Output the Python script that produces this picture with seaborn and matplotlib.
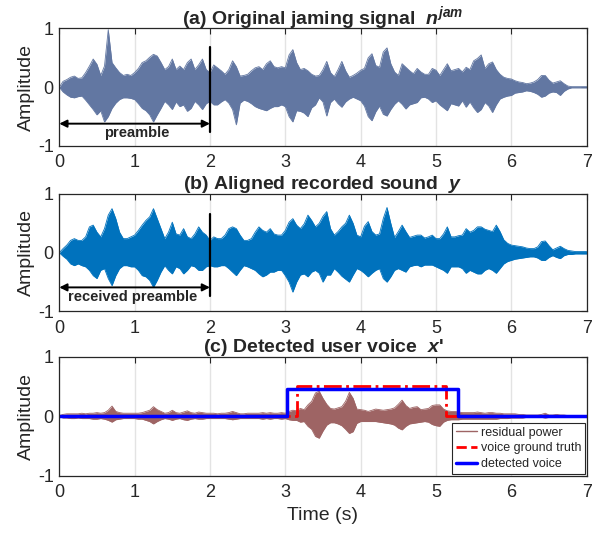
import numpy as np
import matplotlib
matplotlib.use('Agg')
from matplotlib import pyplot as plt
from matplotlib.lines import Line2D
import seaborn as sns

# time grid of the envelopes (s)
time_s = np.round(np.arange(0, 7.001, 0.05), 2)

# (a) original jamming signal, envelope
jam_upper = [
    0.00, 0.10, 0.13, 0.17, 0.19, 0.15, 0.16, 0.25, 0.36, 0.48, 0.39, 0.20, 0.36, 0.98, 0.42, 0.33, 0.25, 0.20, 0.22, 0.20,
    0.25, 0.32, 0.42, 0.45, 0.51, 0.56, 0.53, 0.42, 0.30, 0.35, 0.48, 0.30, 0.36, 0.30, 0.42, 0.48, 0.30, 0.38, 0.48, 0.30,
    0.25, 0.38, 0.33, 0.28, 0.22, 0.30, 0.45, 0.35, 0.19, 0.20, 0.22, 0.28, 0.33, 0.35, 0.30, 0.40, 0.45, 0.35, 0.33, 0.35,
    0.33, 0.55, 0.64, 0.42, 0.30, 0.32, 0.28, 0.22, 0.19, 0.20, 0.30, 0.44, 0.25, 0.18, 0.30, 0.44, 0.28, 0.17, 0.20, 0.24,
    0.29, 0.32, 0.50, 0.57, 0.37, 0.34, 0.60, 0.67, 0.40, 0.26, 0.20, 0.40, 0.34, 0.28, 0.23, 0.32, 0.26, 0.22, 0.22, 0.32,
    0.29, 0.20, 0.30, 0.40, 0.28, 0.30, 0.32, 0.26, 0.34, 0.30, 0.45, 0.49, 0.55, 0.32, 0.40, 0.43, 0.30, 0.22, 0.17, 0.15,
    0.14, 0.11, 0.09, 0.08, 0.06, 0.07, 0.09, 0.13, 0.20, 0.20, 0.12, 0.07, 0.09, 0.11, 0.06, 0.02, 0.01, 0.01, 0.01, 0.01,
    0.01]
jam_lower = [
    0.00, -0.08, -0.13, -0.17, -0.18, -0.16, -0.15, -0.22, -0.30, -0.38, -0.47, -0.40, -0.59, -0.50, -0.36, -0.27, -0.21, -0.18, -0.18, -0.19,
    -0.21, -0.28, -0.36, -0.40, -0.47, -0.59, -0.47, -0.36, -0.24, -0.30, -0.38, -0.25, -0.33, -0.30, -0.41, -0.36, -0.24, -0.30, -0.38, -0.28,
    -0.24, -0.30, -0.30, -0.25, -0.21, -0.27, -0.38, -0.64, -0.27, -0.22, -0.24, -0.28, -0.33, -0.36, -0.38, -0.40, -0.36, -0.33, -0.33, -0.30,
    -0.33, -0.50, -0.59, -0.40, -0.41, -0.44, -0.50, -0.35, -0.30, -0.18, -0.25, -0.49, -0.26, -0.20, -0.28, -0.34, -0.25, -0.20, -0.17, -0.20,
    -0.23, -0.32, -0.50, -0.57, -0.42, -0.32, -0.46, -0.49, -0.38, -0.29, -0.23, -0.29, -0.37, -0.30, -0.28, -0.26, -0.18, -0.17, -0.20, -0.26,
    -0.23, -0.30, -0.35, -0.40, -0.28, -0.30, -0.32, -0.23, -0.34, -0.25, -0.35, -0.43, -0.38, -0.26, -0.32, -0.43, -0.30, -0.20, -0.17, -0.15,
    -0.14, -0.10, -0.09, -0.08, -0.06, -0.07, -0.09, -0.12, -0.17, -0.15, -0.10, -0.08, -0.09, -0.14, -0.07, -0.03, -0.01, -0.01, -0.01, -0.01,
    -0.01]

# (b) aligned recorded sound
rec_upper = [
    0.00, 0.07, 0.13, 0.21, 0.24, 0.21, 0.21, 0.27, 0.44, 0.47, 0.35, 0.27, 0.41, 0.64, 0.75, 0.58, 0.35, 0.24, 0.24, 0.27,
    0.30, 0.38, 0.47, 0.55, 0.61, 0.75, 0.58, 0.41, 0.24, 0.35, 0.52, 0.32, 0.30, 0.41, 0.27, 0.24, 0.32, 0.44, 0.35, 0.30,
    0.21, 0.27, 0.24, 0.24, 0.30, 0.41, 0.44, 0.41, 0.30, 0.21, 0.21, 0.24, 0.35, 0.44, 0.38, 0.35, 0.41, 0.32, 0.30, 0.30,
    0.38, 0.52, 0.58, 0.47, 0.41, 0.49, 0.64, 0.55, 0.44, 0.50, 0.62, 0.70, 0.41, 0.30, 0.36, 0.44, 0.50, 0.64, 0.50, 0.30,
    0.27, 0.45, 0.53, 0.36, 0.30, 0.32, 0.58, 0.77, 0.50, 0.26, 0.36, 0.47, 0.36, 0.26, 0.28, 0.30, 0.30, 0.25, 0.27, 0.30,
    0.24, 0.24, 0.32, 0.44, 0.27, 0.27, 0.29, 0.30, 0.41, 0.35, 0.38, 0.44, 0.44, 0.40, 0.38, 0.36, 0.47, 0.36, 0.22, 0.16,
    0.13, 0.12, 0.11, 0.10, 0.08, 0.07, 0.07, 0.10, 0.19, 0.20, 0.12, 0.05, 0.08, 0.11, 0.07, 0.04, 0.03, 0.02, 0.02, 0.02,
    0.02]
rec_lower = [
    0.00, -0.06, -0.11, -0.19, -0.22, -0.19, -0.22, -0.24, -0.30, -0.39, -0.44, -0.30, -0.27, -0.44, -0.56, -0.39, -0.27, -0.22, -0.22, -0.24,
    -0.24, -0.30, -0.39, -0.41, -0.47, -0.59, -0.47, -0.33, -0.22, -0.30, -0.36, -0.24, -0.27, -0.36, -0.30, -0.22, -0.24, -0.30, -0.30, -0.24,
    -0.22, -0.24, -0.24, -0.22, -0.22, -0.27, -0.33, -0.39, -0.30, -0.22, -0.24, -0.27, -0.30, -0.36, -0.41, -0.38, -0.33, -0.33, -0.30, -0.30,
    -0.39, -0.50, -0.67, -0.50, -0.38, -0.36, -0.41, -0.33, -0.30, -0.35, -0.50, -0.38, -0.38, -0.27, -0.33, -0.40, -0.45, -0.50, -0.38, -0.27,
    -0.30, -0.35, -0.41, -0.35, -0.30, -0.27, -0.44, -0.50, -0.41, -0.30, -0.27, -0.30, -0.33, -0.24, -0.22, -0.21, -0.24, -0.21, -0.21, -0.21,
    -0.24, -0.27, -0.30, -0.35, -0.24, -0.24, -0.24, -0.27, -0.35, -0.30, -0.33, -0.36, -0.36, -0.30, -0.27, -0.30, -0.35, -0.27, -0.19, -0.15,
    -0.13, -0.11, -0.10, -0.09, -0.08, -0.07, -0.07, -0.09, -0.13, -0.13, -0.08, -0.05, -0.08, -0.10, -0.05, -0.03, -0.03, -0.02, -0.02, -0.02,
    -0.02]

# (c) residual power
res_upper = [
    0.01, 0.03, 0.04, 0.04, 0.04, 0.04, 0.05, 0.04, 0.05, 0.05, 0.06, 0.05, 0.06, 0.10, 0.17, 0.08, 0.06, 0.05, 0.05, 0.05,
    0.05, 0.05, 0.06, 0.08, 0.10, 0.16, 0.11, 0.08, 0.05, 0.06, 0.10, 0.06, 0.05, 0.07, 0.09, 0.06, 0.05, 0.07, 0.06, 0.05,
    0.05, 0.05, 0.04, 0.05, 0.05, 0.06, 0.08, 0.06, 0.04, 0.04, 0.05, 0.05, 0.05, 0.05, 0.06, 0.05, 0.06, 0.05, 0.05, 0.06,
    0.05, 0.08, 0.10, 0.09, 0.13, 0.11, 0.19, 0.25, 0.39, 0.42, 0.30, 0.20, 0.13, 0.12, 0.14, 0.16, 0.25, 0.40, 0.30, 0.12,
    0.11, 0.10, 0.08, 0.10, 0.12, 0.11, 0.10, 0.11, 0.12, 0.14, 0.20, 0.27, 0.18, 0.13, 0.15, 0.16, 0.11, 0.12, 0.13, 0.18,
    0.19, 0.19, 0.12, 0.09, 0.08, 0.08, 0.07, 0.06, 0.06, 0.06, 0.06, 0.07, 0.06, 0.05, 0.06, 0.06, 0.05, 0.05, 0.04, 0.04,
    0.04, 0.04, 0.03, 0.03, 0.02, 0.02, 0.02, 0.02, 0.03, 0.05, 0.02, 0.02, 0.03, 0.02, 0.02, 0.01, 0.01, 0.01, 0.01, 0.01,
    0.01]
res_lower = [
    -0.01, -0.03, -0.03, -0.04, -0.04, -0.03, -0.04, -0.04, -0.04, -0.05, -0.05, -0.04, -0.05, -0.07, -0.10, -0.06, -0.05, -0.04, -0.04, -0.04,
    -0.04, -0.05, -0.05, -0.07, -0.09, -0.13, -0.09, -0.06, -0.04, -0.05, -0.07, -0.05, -0.04, -0.06, -0.07, -0.05, -0.04, -0.05, -0.05, -0.04,
    -0.04, -0.04, -0.04, -0.04, -0.04, -0.05, -0.06, -0.05, -0.04, -0.04, -0.04, -0.04, -0.04, -0.04, -0.05, -0.04, -0.05, -0.04, -0.04, -0.05,
    -0.04, -0.06, -0.07, -0.07, -0.10, -0.09, -0.17, -0.22, -0.34, -0.37, -0.25, -0.15, -0.11, -0.11, -0.13, -0.16, -0.22, -0.29, -0.26, -0.12,
    -0.09, -0.09, -0.09, -0.09, -0.09, -0.10, -0.11, -0.12, -0.13, -0.15, -0.20, -0.23, -0.17, -0.13, -0.12, -0.11, -0.10, -0.09, -0.10, -0.14,
    -0.16, -0.17, -0.10, -0.07, -0.06, -0.06, -0.06, -0.05, -0.05, -0.05, -0.05, -0.05, -0.05, -0.05, -0.05, -0.05, -0.05, -0.04, -0.04, -0.04,
    -0.03, -0.03, -0.03, -0.03, -0.02, -0.02, -0.02, -0.02, -0.02, -0.03, -0.02, -0.02, -0.02, -0.02, -0.01, -0.01, -0.01, -0.01, -0.01, -0.01,
    -0.01]

# step curves of panel (c)
truth_t = [0.0, 3.16, 5.13, 7.0]
truth_amp = [0.0, 0.51, 0.0, 0.0]
detect_t = [0.0, 3.02, 5.29, 7.0]
detect_amp = [0.0, 0.45, 0.0, 0.0]

preamble_end = 2.0
titles = [r'(a) Original jaming signal  $n^{jam}$',
          r'(b) Aligned recorded sound  $y$',
          r"(c) Detected user voice  $x$'"]
legend_labels = ['residual power', 'voice ground truth', 'detected voice']

c_jam = '#6277a2'
c_rec = '#0072bd'
c_res = '#9e6464'
dark = '#262626'

sns.set_style('white')
plt.rcParams['font.family'] = ['Liberation Sans', 'DejaVu Sans']
plt.rcParams['axes.unicode_minus'] = False
plt.rcParams['mathtext.fontset'] = 'custom'
plt.rcParams['mathtext.it'] = 'Liberation Sans:italic:bold'
plt.rcParams['mathtext.rm'] = 'Liberation Sans:bold'


def style_axes(ax, title):
    ax.set_xlim(0, 7)
    ax.set_ylim(-1, 1)
    ax.set_xticks(range(8))
    ax.set_yticks([-1, 0, 1])
    ax.set_axisbelow(True)
    ax.grid(axis='x', color='#e3e3e3', lw=1)
    ax.grid(axis='y', visible=False)
    ax.tick_params(direction='in', length=4, width=0.8, top=True, right=True,
                   labelsize=13, colors=dark)
    ax.tick_params(axis='x', pad=6)
    ax.tick_params(axis='y', pad=4)
    for sp in ax.spines.values():
        sp.set_color(dark)
        sp.set_linewidth(0.9)
    ax.set_ylabel('Amplitude', fontsize=14, color=dark, labelpad=2)
    ax.set_title(title, fontsize=14, fontweight='bold', pad=3.5)


def draw_wave(ax, upper, lower, color):
    ax.fill_between(time_s, lower, upper, color=color, lw=0)
    sns.lineplot(x=time_s, y=upper, color=color, lw=0.6, ax=ax)
    sns.lineplot(x=time_s, y=lower, color=color, lw=0.6, ax=ax)


def mark_preamble(ax, text, top, bottom, arrow_y, text_x, text_y):
    ax.plot([preamble_end, preamble_end], [bottom, top], color='k', lw=1.6)
    ax.annotate('', xy=(0, arrow_y), xytext=(preamble_end, arrow_y),
                arrowprops=dict(arrowstyle='<|-|>', color='k', lw=1.4,
                                mutation_scale=11, shrinkA=0, shrinkB=0))
    ax.text(text_x, text_y, text, fontsize=10.5, fontweight='bold',
            ha='center', va='center')


fig = plt.figure(figsize=(6, 5.33), dpi=100)
ax_a = fig.add_axes([0.0988, 0.7261, 0.879, 0.2205])
ax_b = fig.add_axes([0.0988, 0.4156, 0.879, 0.2205])
ax_c = fig.add_axes([0.0988, 0.1075, 0.879, 0.2233])

draw_wave(ax_a, jam_upper, jam_lower, c_jam)
mark_preamble(ax_a, 'preamble', 0.68, -0.76, -0.62, 1.03, -0.78)
style_axes(ax_a, titles[0])

draw_wave(ax_b, rec_upper, rec_lower, c_rec)
mark_preamble(ax_b, 'received preamble', 0.66, -0.73, -0.59, 0.98, -0.75)
style_axes(ax_b, titles[1])

draw_wave(ax_c, res_upper, res_lower, c_res)
sns.lineplot(x=truth_t, y=truth_amp, drawstyle='steps-post', color='red',
             lw=2, linestyle='-.', ax=ax_c)
sns.lineplot(x=detect_t, y=detect_amp, drawstyle='steps-post', color='blue',
             lw=2.5, ax=ax_c)
style_axes(ax_c, titles[2])
ax_c.set_xlabel('Time (s)', fontsize=14, color=dark, labelpad=4)

handles = [Line2D([], [], color=c_res, lw=1),
           Line2D([], [], color='red', lw=2, ls='--'),
           Line2D([], [], color='blue', lw=2.5)]
leg = ax_c.legend(handles, legend_labels, loc='lower right', fontsize=9,
                  frameon=True, fancybox=False, edgecolor=dark, framealpha=1,
                  borderaxespad=0.15, borderpad=0.3, labelspacing=0.3,
                  handlelength=1.7, handletextpad=0.3)
leg.get_frame().set_linewidth(0.8)

plt.savefig('out.png', dpi=100)
